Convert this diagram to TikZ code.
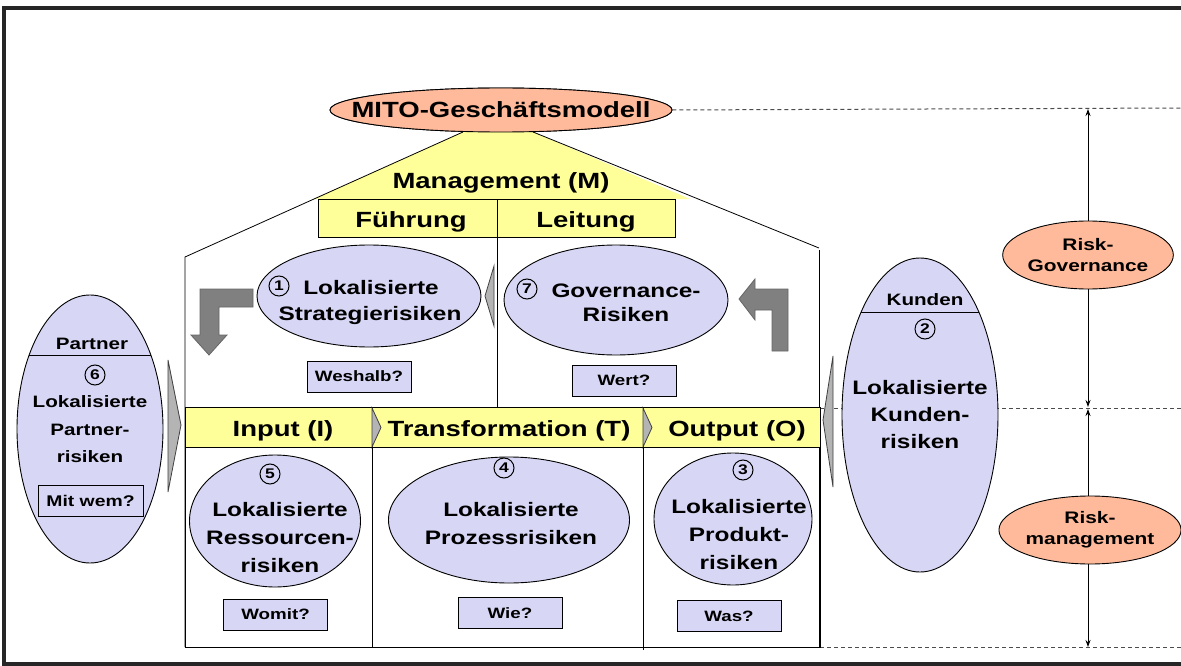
\documentclass[tikz,border=0pt]{standalone}
\usepackage{fontspec}
\setmainfont{Liberation Sans}[FakeStretch=1.25]
\usetikzlibrary{shapes.geometric,arrows.meta}
\definecolor{salmon}{HTML}{FFBA9B}
\definecolor{lav}{HTML}{D7D7F5}
\definecolor{yel}{HTML}{FFFF99}
\definecolor{arrgray}{HTML}{808080}
\definecolor{chevgray}{HTML}{B4B4B4}
\begin{document}
\begin{tikzpicture}[x=1pt,y=-1pt,line width=0.8pt,
  ell/.style={ellipse,draw=black,line width=0.9pt,inner sep=0pt},
  bigf/.style={font=\fontsize{22}{26}\selectfont\bfseries},
  etxt/.style={font=\fontsize{19.5}{28}\selectfont\bfseries,align=center,inner sep=0pt},
  stxt/.style={font=\fontsize{16.5}{27.5}\selectfont\bfseries,align=center,inner sep=0pt},
  rtxt/.style={font=\fontsize{16.7}{21}\selectfont\bfseries,align=center},
  qbox/.style={draw=black,line width=0.9pt,fill=lav,minimum width=104pt,minimum height=31pt,inner sep=0pt,font=\fontsize{15}{15}\selectfont\bfseries},
  num/.style={circle,draw=black,line width=1pt,inner sep=0pt,minimum size=20pt,font=\fontsize{14}{14}\selectfont\bfseries},
  ybox/.style={draw=black,line width=0.8pt,fill=yel,inner sep=0pt},
  dline/.style={dashed,dash pattern=on 4pt off 3pt,black!70,line width=1pt},
  varrow/.style={-{Stealth[length=7pt,width=5pt]},line width=0.9pt},
  barrow/.style={fill=arrgray,draw=black!60,line width=0.8pt},
  chev/.style={fill=chevgray,draw=black!75,line width=0.8pt}]
\useasboundingbox (0,0) rectangle (1181,666);
\fill[white] (0,0) rectangle (1181,666);
% frame
\draw[line width=3.2pt,black!85] (4,8) rectangle (1200,664);

% MITO ellipse
\node[ell,fill=salmon,minimum width=342pt,minimum height=44pt] (mito) at (501,110) {};
% dashed level lines
\coordinate (d1) at (1181,108);
\coordinate (d2a) at (820,408);
\coordinate (d2b) at (1181,408);
\coordinate (d3a) at (820,647);
\coordinate (d3b) at (1181,647);
\draw[dline] (mito.east) -- (d1);
\draw[dline] (d2a) -- (d2b);
\draw[dline] (d3a) -- (d3b);

% house
\coordinate (hL) at (463,132);
\coordinate (hR) at (533,132);
\coordinate (yL) at (314,199);
\coordinate (yR) at (690,199);
\coordinate (bL) at (185,257);
\coordinate (bR) at (819,248);
\coordinate (bLb) at (185,647);
\coordinate (bRt) at (819,250);
\coordinate (bRb) at (819,647);
\fill[yel] (hL) -- (hR) -- (yR) -- (yL) -- cycle;
\draw (hL) -- (bL) -- (bLb);
\draw (hR) -- (bR);
\draw (bRt) -- (bRb);
\node[ell,fill=salmon,minimum width=342pt,minimum height=44pt] (mito2) at (501,110) {};
\node[bigf,anchor=base] (mitot) at (501,118) {MITO-Geschäftsmodell};
\node[bigf,anchor=base] (mgmt) at (501,189) {Management (M)};

% Fuehrung / Leitung
\node[ybox,minimum width=179pt,minimum height=38pt] (fu) at (407.5,218) {};
\node[ybox,minimum width=178pt,minimum height=38pt] (le) at (586,218) {};
\node[bigf,anchor=base] (fut) at (411,227) {Führung};
\node[bigf,anchor=base] (let) at (586,227) {Leitung};
\coordinate (dv1) at (497,237);
\coordinate (dv2) at (497,408);
\draw (dv1) -- (dv2);

% upper ellipses
\node[ell,fill=lav,minimum width=224pt,minimum height=102pt] (e1) at (369,296) {};
\node[ell,fill=lav,minimum width=224pt,minimum height=110pt] (e7) at (616,300) {};
\node[num] (n1) at (279,286) {1};
\node[etxt,anchor=base] (e1a) at (371,294) {Lokalisierte};
\node[etxt,anchor=base] (e1b) at (370,320) {Strategierisiken};
\node[num] (n7) at (527,289) {7};
\node[etxt,anchor=base] (e7a) at (626,297) {Governance-};
\node[etxt,anchor=base] (e7b) at (626,321) {Risiken};
\draw[chev] (494,266) -- (485,296) -- (494,326) -- cycle;
\node[qbox] (q1) at (359,376.5) {Weshalb?};
\node[qbox] (q7) at (624,380.5) {Wert?};

% bent arrows
\draw[barrow] (253,289) -- (200,289) -- (200,335) -- (191,335) -- (209,355) -- (227,335) -- (219,335) -- (219,307) -- (253,307) -- cycle;
\draw[barrow] (739,299) -- (755,279) -- (755,289) -- (788,289) -- (788,351) -- (772,351) -- (772,310) -- (755,310) -- (755,320) -- cycle;

% IPO band
\node[ybox,minimum width=187pt,minimum height=40pt] (inp) at (278.5,427.5) {};
\node[ybox,minimum width=271pt,minimum height=40pt] (tra) at (507.5,427.5) {};
\node[ybox,minimum width=177pt,minimum height=40pt] (out) at (731.5,427.5) {};
\draw[chev] (372,408) -- (381,427.5) -- (372,447) -- cycle;
\draw[chev] (643,408) -- (652,427.5) -- (643,447) -- cycle;
\node[bigf,anchor=base] (inpt) at (283,436) {Input (I)};
\node[bigf,anchor=base] (trat) at (509,436) {Transformation (T)};
\node[bigf,anchor=base] (outt) at (737,436) {Output (O)};

% lower area
\coordinate (lb1) at (185,447);
\coordinate (lb2) at (820,647);
\draw (lb1) rectangle (lb2);
\coordinate (v1a) at (372,447);
\coordinate (v1b) at (372,647);
\coordinate (v2a) at (643,447);
\coordinate (v2b) at (643,650);
\draw (v1a) -- (v1b);
\draw (v2a) -- (v2b);

\node[ell,fill=lav,minimum width=171pt,minimum height=132pt] (e5) at (275,521) {};
\node[ell,fill=lav,minimum width=241pt,minimum height=126pt] (e4) at (509,520) {};
\node[ell,fill=lav,minimum width=158pt,minimum height=132pt] (e3) at (733,519) {};
\node[num] (n5) at (270,474) {5};
\node[num] (n4) at (504,468) {4};
\node[num] (n3) at (743,470) {3};
\node[etxt] (e5t) at (280,538) {Lokalisierte\\Ressourcen-\\risiken};
\node[etxt] (e4t) at (511,524) {Lokalisierte\\Prozessrisiken};
\node[etxt] (e3t) at (739,535) {Lokalisierte\\Produkt-\\risiken};
\node[qbox] (q5) at (275.5,614.5) {Womit?};
\node[qbox] (q4) at (510,613) {Wie?};
\node[qbox] (q3) at (729,616) {Was?};

% Partner
\draw[chev] (168,360) -- (181,425) -- (168,492) -- cycle;
\node[ell,fill=lav,minimum width=146pt,minimum height=268pt] (pe) at (90,429) {};
\coordinate (pc1) at (29,355);
\coordinate (pc2) at (151,355);
\draw (pc1) -- (pc2);
\node[stxt,anchor=base] (pt) at (92,349) {Partner};
\node[num] (n6) at (95,375) {6};
\node[stxt] (pet) at (90,429.5) {Lokalisierte\\Partner-\\risiken};
\node[qbox,minimum width=105pt,font=\fontsize{15.5}{15.5}\selectfont\bfseries] (q6) at (90.5,500.5) {Mit wem?};

% Kunden
\draw[chev] (833,356) -- (823,420) -- (833,487) -- cycle;
\node[ell,fill=lav,minimum width=156pt,minimum height=314pt] (ke) at (920,415) {};
\coordinate (kc1) at (861,312);
\coordinate (kc2) at (979,312);
\draw (kc1) -- (kc2);
\node[stxt,anchor=base] (kt) at (925,305) {Kunden};
\node[num] (n2) at (925,329) {2};
\node[etxt,font=\fontsize{19.5}{27}\selectfont\bfseries] (ket) at (920,415) {Lokalisierte\\Kunden-\\risiken};

% Risk ellipses and arrows
\node[ell,fill=salmon,minimum width=162pt,minimum height=68pt,rtxt] (rg) at (1088,255) {Risk-\\Governance};
\node[ell,fill=salmon,minimum width=162pt,minimum height=68pt,rtxt] (rm) at (1090,530) {Risk-\\management};
\coordinate (a1) at (1088,109);
\coordinate (a2) at (1088,407);
\coordinate (a3) at (1088,409);
\coordinate (a4) at (1088,647);
\draw[varrow] (rg.north) -- (a1);
\draw[varrow] (rg.south) -- (a2);
\draw[varrow] (rm.north -| a3) -- (a3);
\draw[varrow] (rm.south -| a4) -- (a4);
\end{tikzpicture}
\end{document}
